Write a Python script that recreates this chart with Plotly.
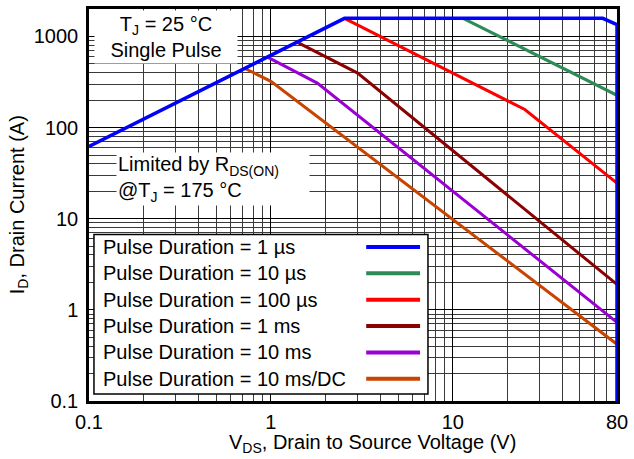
import plotly.graph_objects as go

# Safe operating area curves: drain-source voltage (V) vs drain current (A)
pulse_labels = [
    "Pulse Duration = 1 µs",
    "Pulse Duration = 10 µs",
    "Pulse Duration = 100 µs",
    "Pulse Duration = 1 ms",
    "Pulse Duration = 10 ms",
    "Pulse Duration = 10 ms/DC",
]
colors = ["#0000FF", "#2E8B57", "#FF0000", "#8B0000", "#9900D3", "#C84400"]

vds_1us = [0.1, 2.54, 66.8, 80, 80]
id_1us = [62, 1580, 1580, 1350, 0.1]

vds_10us = [11.4, 80]
id_10us = [1580, 226]

vds_100us = [2.54, 24.9, 80]
id_100us = [1580, 158, 24.6]

vds_1ms = [1.4, 3.0, 80]
id_1ms = [860, 396, 1.9]

vds_10ms = [0.97, 1.8, 80]
id_10ms = [585, 308, 0.73]

vds_dc = [0.72, 1.0, 80]
id_dc = [445, 322, 0.42]

series_v = [vds_1us, vds_10us, vds_100us, vds_1ms, vds_10ms, vds_dc]
series_i = [id_1us, id_10us, id_100us, id_1ms, id_10ms, id_dc]

x_ticks = [0.1, 1, 10, 80]
x_ticktext = ["0.1", "1", "10", "80"]
y_ticks = [0.1, 1, 10, 100, 1000]
y_ticktext = ["0.1", "1", "10", "100", "1000"]

FONT = "Liberation Sans, Arial, Helvetica, sans-serif"
FS = 20

x_minor = [k * 10 ** e for e in (-1, 0, 1) for k in range(2, 10) if k * 10 ** e < 80]
y_minor = [k * 10 ** e for e in (-1, 0, 1, 2, 3) for k in range(2, 10) if k * 10 ** e < 2000]

fig = go.Figure()

# draw from the DC curve up so the 1 µs boundary sits on top
for v, i, c, name in reversed(list(zip(series_v, series_i, colors, pulse_labels))):
    fig.add_trace(go.Scatter(
        x=v, y=i, mode="lines", name=name,
        line=dict(color=c, width=3.5 if c == "#0000FF" else 3),
        cliponaxis=False, showlegend=False,
    ))

fig.update_xaxes(
    type="log", range=[-1, 1.90309],
    tickvals=x_ticks, ticktext=x_ticktext,
    showgrid=True, gridcolor="#000000", gridwidth=1,
    minor=dict(tickvals=x_minor, showgrid=True, gridcolor="#3a3a3a", gridwidth=1, ticks=""),
    showline=True, linecolor="black", linewidth=2.5, mirror=True,
    ticks="", ticklabelstandoff=1,
    tickfont=dict(family=FONT, size=FS, color="black"),
    zeroline=False,
)
fig.update_yaxes(
    type="log", range=[-1, 3.30103],
    tickvals=y_ticks, ticktext=y_ticktext,
    showgrid=True, gridcolor="#000000", gridwidth=1,
    minor=dict(tickvals=y_minor, showgrid=True, gridcolor="#3a3a3a", gridwidth=1, ticks=""),
    showline=True, linecolor="black", linewidth=2.5, mirror=True,
    ticks="", ticklabelstandoff=4,
    tickfont=dict(family=FONT, size=FS, color="black"),
    zeroline=False,
)

annotations = [
    dict(text="T<sub>J</sub> = 25 °C<br>Single Pulse", xref="paper", yref="paper",
         x=0.145, y=0.929, xanchor="center", yanchor="middle", align="center",
         showarrow=False, bgcolor="white", width=140, height=50,
         font=dict(family=FONT, size=FS, color="black")),
    dict(text="Limited by R<sub>DS(ON)</sub><br>@T<sub>J</sub> = 175 °C", xref="paper", yref="paper",
         x=0.052, y=0.566, xanchor="left", yanchor="middle", align="left",
         showarrow=False, bgcolor="white", width=190, height=50,
         font=dict(family=FONT, size=FS, color="black")),
    dict(text="V<sub>DS</sub>, Drain to Source Voltage (V)", xref="paper", yref="paper",
         x=0.537, y=-0.108, xanchor="center", yanchor="middle", showarrow=False,
         font=dict(family=FONT, size=FS, color="black")),
    dict(text="I<sub>D</sub>, Drain Current (A)", xref="paper", yref="paper",
         x=-0.134, y=0.5, xanchor="center", yanchor="middle", textangle=-90, showarrow=False,
         font=dict(family=FONT, size=FS, color="black")),
]

shapes = [
    # legend panel
    dict(type="rect", xref="paper", yref="paper", x0=0.0094, x1=0.642, y0=0.0177, y1=0.425,
         fillcolor="white", line=dict(color="black", width=1.5), layer="above"),
]

row_top = 0.393
row_step = 0.0673
for k, (name, c) in enumerate(zip(pulse_labels, colors)):
    yk = row_top - k * row_step
    annotations.append(dict(text=name, xref="paper", yref="paper", x=0.0226, y=yk,
                            xanchor="left", yanchor="middle", showarrow=False,
                            font=dict(family=FONT, size=FS, color="black")))
    shapes.append(dict(type="line", xref="paper", yref="paper", x0=0.525, x1=0.627, y0=yk, y1=yk,
                       line=dict(color=c, width=4), layer="above"))

fig.update_layout(
    width=634, height=459,
    margin=dict(l=89, r=14, t=6, b=58),
    paper_bgcolor="white", plot_bgcolor="white",
    showlegend=False,
    annotations=annotations,
    shapes=shapes,
)

fig.write_html("out.html")
